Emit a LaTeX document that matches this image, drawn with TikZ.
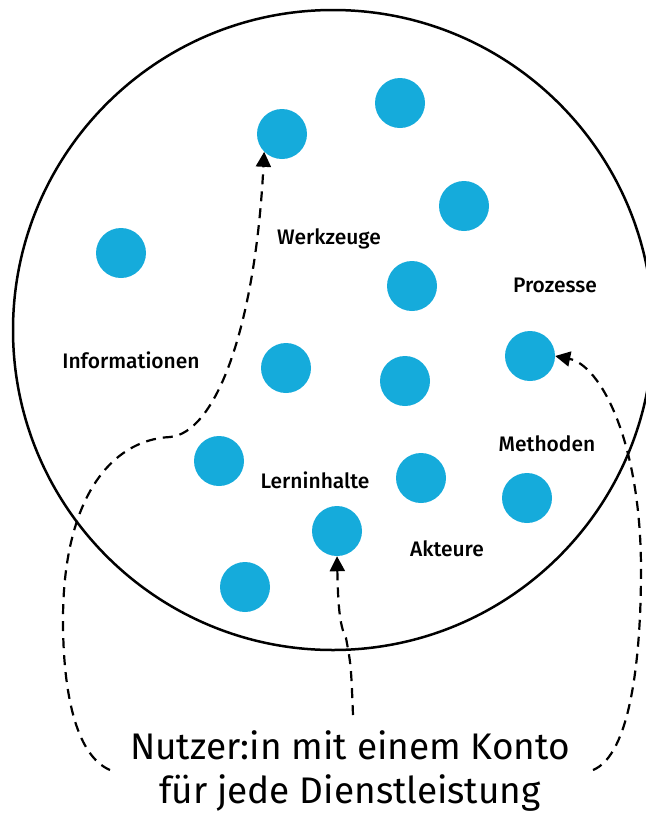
\documentclass[tikz,border=0pt]{standalone}
\usepackage{fontspec}
\setmainfont{Fira Sans}[BoldFont={Fira Sans Medium}]
\usetikzlibrary{arrows.meta}
\definecolor{dotblue}{RGB}{21,171,219}

\begin{document}
\begin{tikzpicture}
			[x=1pt,y=-1pt,
			dot/.style= {circle,fill=dotblue,minimum size=50pt,inner sep=0pt},
			lbl/.style= {font=\fontsize{21}{24}\selectfont\bfseries,anchor=base,inner sep=0pt},
			link/.style= {dash pattern=on 10pt off 7pt,line width=2.2pt,-{Triangle[length=15pt,width=15pt]}}]

			\useasboundingbox (0,0) rectangle (646,815);

			% the big circle
			\draw[line width=2.5pt] (333,330) circle[radius=320pt];

			\node[dot] (d1) at (282,134) {};
			\node[dot] (d2) at (400,103) {};
			\node[dot] (d3) at (464,206) {};
			\node[dot] (d4) at (121,253) {};
			\node[dot] (d5) at (412,286) {};
			\node[dot] (d6) at (286,368) {};
			\node[dot] (d7) at (405,381) {};
			\node[dot] (d8) at (530,356) {};
			\node[dot] (d9) at (219,461) {};
			\node[dot] (d10) at (421,478) {};
			\node[dot] (d11) at (527,498) {};
			\node[dot] (d12) at (337,531) {};
			\node[dot] (d13) at (245,587) {};

			\node[lbl] (werkzeuge) at (329,244) {Werkzeuge};
			\node[lbl] (prozesse) at (555,292) {Prozesse};
			\node[lbl] (informationen) at (131,368) {Informationen};
			\node[lbl] (methoden) at (547,451) {Methoden};
			\node[lbl] (lerninhalte) at (315,488) {Lerninhalte};
			\node[lbl] (akteure) at (447,556) {Akteure};

			\node[font=\fontsize{37}{44}\selectfont,align=center,anchor=base,inner sep=0pt] (user) at (350,803)
				{Nutzer:in mit einem Konto\\für jede Dienstleistung};

			\coordinate (uleft) at (110,770);
			\coordinate (umid) at (353,715);
			\coordinate (uright) at (593,770);

			\draw[link] (uleft) .. controls (75,755) and (63,690) .. (63,620)
				.. controls (63,500) and (110,440) .. (170,437)
				.. controls (215,433) and (255,330) .. (d1.225);
			\draw[link] (umid) .. controls (351,665) .. (346,638)
				.. controls (339,625) and (338,600) .. (d12.south);
			\draw[link] (uright) .. controls (630,755) and (641,660) .. (641,570)
				.. controls (641,440) and (600,365) .. (d8.east);

		\end{tikzpicture}
\end{document}
